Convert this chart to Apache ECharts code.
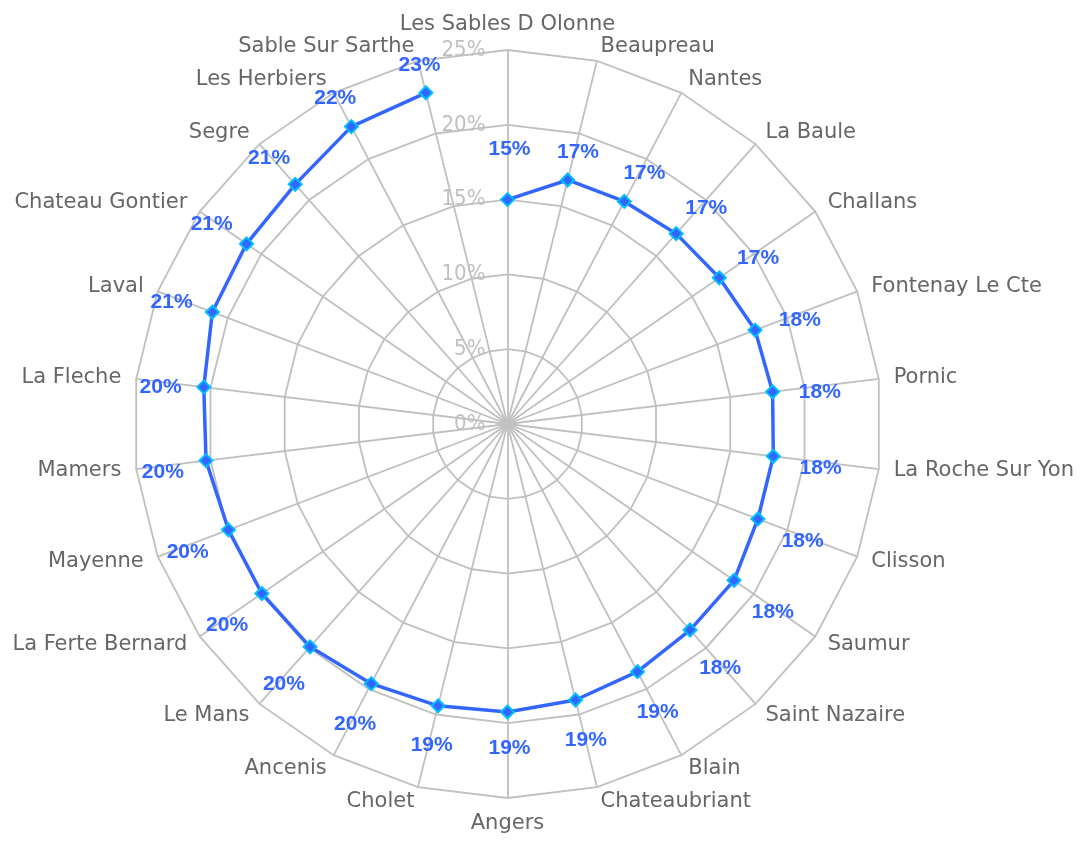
<!DOCTYPE html>
<html>
<head>
<meta charset="utf-8">
<script src="https://cdn.jsdelivr.net/npm/echarts@6/dist/echarts.min.js"></script>
<style>
html,body{margin:0;padding:0;background:#fff;}
#chart{width:1084px;height:841px;}
</style>
</head>
<body>
<div id="chart"></div>
<script>
// categories, clockwise from the top
const categories = [
  'Les Sables D Olonne','Beaupreau','Nantes','La Baule','Challans','Fontenay Le Cte',
  'Pornic','La Roche Sur Yon','Clisson','Saumur','Saint Nazaire','Blain','Chateaubriant',
  'Angers','Cholet','Ancenis','Le Mans','La Ferte Bernard','Mayenne','Mamers','La Fleche',
  'Laval','Chateau Gontier','Segre','Les Herbiers','Sable Sur Sarthe'
];
// values in percent
const values = [
  15.0,16.8,16.8,17.0,17.2,17.7,
  17.85,17.9,17.9,18.4,18.4,18.7,19.0,
  19.25,19.4,19.6,19.9,19.95,19.95,20.3,20.45,
  21.1,21.2,21.4,22.45,22.8
];
const axisMin = 0;
const axisMax = 25;
const axisSplits = 5;

const CX = 507.5, CY = 424, R = 374;
const n = categories.length;

// radar indicators run counter-clockwise, so reorder to get a clockwise layout
const order = [0].concat(categories.map((_, i) => i).slice(1).reverse());
const indicators = order.map((idx, k) => {
  const ind = { name: categories[idx], min: axisMin, max: axisMax };
  if (k === 0) ind.axisLabel = { show: true };
  return ind;
});

const labelExtra = { 0: 26 };
function labelOffset(i) {
  const t = i * 2 * Math.PI / n;
  const s = Math.sin(t), c = Math.cos(t);
  const d = 24 + 21 * Math.abs(s) + 6 * Math.abs(c) + (labelExtra[i] || 0);
  return [s * d + 2, -c * d + 6];
}

const lineData = values.map((v, i) => ({
  value: [v, i],
  label: { offset: labelOffset(i) }
}));
// close the outline back to the first category
lineData.push({ value: [values[0], 0], label: { show: false }, symbol: 'none' });

const chart = echarts.init(document.getElementById('chart'), null, { renderer: 'canvas' });
chart.setOption({
  animation: false,
  backgroundColor: '#ffffff',
  radar: {
    center: [CX, CY],
    radius: R,
    startAngle: 90,
    shape: 'polygon',
    splitNumber: axisSplits,
    nameGap: 15,
    axisName: { color: '#666666', fontSize: 21, fontFamily: 'DejaVu Sans' },
    splitArea: { show: false },
    splitLine: { lineStyle: { color: '#c0c0c0', width: 1.8 } },
    axisLine: { lineStyle: { color: '#c0c0c0', width: 1.8 } },
    axisTick: { show: false },
    axisLabel: {
      show: false,
      color: '#c0c0c0',
      fontSize: 22,
      margin: 22,
      fontFamily: 'DejaVu Sans Condensed, DejaVu Sans',
      formatter: '{value}%'
    },
    indicator: indicators
  },
  polar: { center: [CX, CY], radius: R },
  angleAxis: {
    type: 'category',
    data: categories,
    startAngle: 90,
    clockwise: true,
    boundaryGap: false,
    show: false
  },
  radiusAxis: { type: 'value', min: axisMin, max: axisMax, show: false },
  series: [{
    type: 'line',
    coordinateSystem: 'polar',
    data: lineData,
    symbol: 'diamond',
    symbolSize: 13,
    lineStyle: { color: '#3366ff', width: 3.5 },
    itemStyle: { color: '#3366ff', borderColor: '#00bfff', borderWidth: 2 },
    label: {
      show: true,
      position: 'inside',
      color: '#3366ff',
      fontSize: 21,
      fontWeight: 'bold',
      fontFamily: 'Liberation Sans, Arial, sans-serif',
      align: 'center',
      verticalAlign: 'middle',
      formatter: p => Math.round(p.value[0]) + '%'
    },
    z: 5
  }]
});
</script>
</body>
</html>
